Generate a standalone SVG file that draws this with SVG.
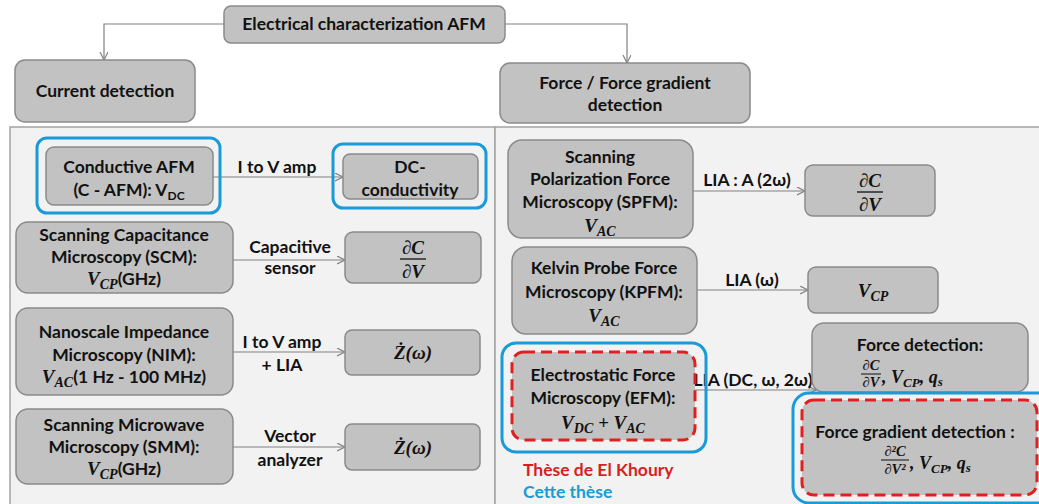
<svg xmlns="http://www.w3.org/2000/svg" width="1039" height="504" viewBox="0 0 1039 504">
<style>
.box{fill:#c2c2c2;stroke:#8a8a8a;stroke-width:1.5}
.panel{fill:#f2f2f2;stroke:#a3a3a3;stroke-width:1.5}
.blue{fill:none;stroke:#1a9ad6;stroke-width:3}
.red{stroke:#e0201f;stroke-width:3;stroke-dasharray:11 6}
.t{font-family:Lato,"Liberation Sans",sans-serif;font-weight:bold;font-size:17.5px;fill:#111;text-anchor:middle}
.l{font-family:Lato,"Liberation Sans",sans-serif;font-weight:bold;font-size:17.5px;fill:#111;text-anchor:middle}
.m{font-family:"Liberation Serif","DejaVu Serif",serif;font-style:italic;font-weight:bold;font-size:19px;fill:#111;text-anchor:middle}
.ms{font-family:"Liberation Serif","DejaVu Serif",serif;font-style:italic;font-weight:bold;font-size:14.5px;fill:#111;text-anchor:middle}
.conn path{fill:none;stroke:#808080;stroke-width:1.2}
.bar{stroke:#111;stroke-width:1.3}
</style>
<defs>
<marker id="arr" markerUnits="userSpaceOnUse" markerWidth="10" markerHeight="10" refX="8" refY="4" orient="auto">
<path d="M0,0 L8,4 L0,8" fill="none" stroke="#808080" stroke-width="1.2"/>
</marker>
</defs>

<rect class="panel" x="10" y="127" width="485" height="382"/>
<rect class="panel" x="495" y="127" width="550" height="382"/>

<g class="conn">
<path d="M224 24 H104 V60" marker-end="url(#arr)"/>
<path d="M505 24 H627 V63" marker-end="url(#arr)"/>
<path d="M213 177 H343" marker-end="url(#arr)"/>
<path d="M233 260 H345" marker-end="url(#arr)"/>
<path d="M233 352 H345" marker-end="url(#arr)"/>
<path d="M233 447 H345" marker-end="url(#arr)"/>
<path d="M693 191 H805" marker-end="url(#arr)"/>
<path d="M697 290 H808" marker-end="url(#arr)"/>
<path d="M695 390 H816" marker-end="url(#arr)"/>
</g>

<g id="labels">
<text class="l" x="277" y="173">I to V amp</text>
<text class="l" x="290" y="253">Capacitive</text>
<text class="l" x="290" y="274">sensor</text>
<text class="l" x="282" y="348">I to V amp</text>
<text class="l" x="282" y="371">+ LIA</text>
<text class="l" x="290" y="442">Vector</text>
<text class="l" x="290" y="466">analyzer</text>
<text class="l" x="747" y="186">LIA : A (2ω)</text>
<text class="l" x="752" y="286">LIA (ω)</text>
<text class="l" x="753" y="386">LIA (DC, ω, 2ω)</text>
</g>

<g id="n-top">
<rect class="box" x="224" y="6" width="281" height="37" rx="7"/>
<text class="t" x="364" y="30">Electrical characterization AFM</text>
</g>
<g id="n-current">
<rect class="box" x="15" y="60" width="180" height="62" rx="10"/>
<text class="t" x="105" y="97">Current detection</text>
</g>
<g id="n-force">
<rect class="box" x="500" y="63" width="250" height="60" rx="10"/>
<text class="t" x="625" y="89">Force / Force gradient</text>
<text class="t" x="625" y="111">detection</text>
</g>

<g id="n-cafm">
<rect class="blue" x="37" y="138" width="183" height="75" rx="10"/>
<rect class="box" x="46" y="147" width="167" height="58" rx="8"/>
<text class="t" x="129" y="173">Conductive AFM</text>
<text class="t" x="129" y="196">(C - AFM): V<tspan dy="4" style="font-size:12px">DC</tspan></text>
</g>
<g id="n-dc">
<rect class="blue" x="333" y="144" width="153" height="64" rx="10"/>
<rect class="box" x="343" y="154" width="135" height="45" rx="7"/>
<text class="t" x="410" y="173">DC-</text>
<text class="t" x="410" y="196">conductivity</text>
</g>

<g id="n-scm">
<rect class="box" x="16" y="222" width="217" height="71" rx="12"/>
<text class="t" x="124" y="241">Scanning Capacitance</text>
<text class="t" x="124" y="263">Microscopy (SCM):</text>
<text class="t" x="124" y="285"><tspan class="m">V</tspan><tspan class="m" dy="4" style="font-size:14px">CP</tspan><tspan dy="-4">(GHz)</tspan></text>
</g>
<g id="n-scm-out">
<rect class="box" x="345" y="232" width="136" height="51" rx="8"/>
<text class="m" x="413" y="254">∂C</text>
<line class="bar" x1="400" y1="259" x2="426" y2="259"/>
<text class="m" x="413" y="278">∂V</text>
</g>

<g id="n-nim">
<rect class="box" x="16" y="308" width="217" height="87" rx="12"/>
<text class="t" x="124" y="338">Nanoscale Impedance</text>
<text class="t" x="124" y="361">Microscopy (NIM):</text>
<text class="t" x="124" y="383"><tspan class="m">V</tspan><tspan class="m" dy="4" style="font-size:14px">AC</tspan><tspan dy="-4">(1 Hz - 100 MHz)</tspan></text>
</g>
<g id="n-nim-out">
<rect class="box" x="345" y="330" width="135" height="45" rx="7"/>
<text class="m" x="413" y="359">Ż(ω)</text>
</g>

<g id="n-smm">
<rect class="box" x="16" y="409" width="217" height="75" rx="12"/>
<text class="t" x="124" y="431">Scanning Microwave</text>
<text class="t" x="124" y="453">Microscopy (SMM):</text>
<text class="t" x="124" y="475"><tspan class="m">V</tspan><tspan class="m" dy="4" style="font-size:14px">CP</tspan><tspan dy="-4">(GHz)</tspan></text>
</g>
<g id="n-smm-out">
<rect class="box" x="345" y="424" width="135" height="46" rx="7"/>
<text class="m" x="413" y="454">Ż(ω)</text>
</g>

<g id="n-spfm">
<rect class="box" x="508" y="140" width="185" height="98" rx="14"/>
<text class="t" x="600" y="163">Scanning</text>
<text class="t" x="600" y="185">Polarization Force</text>
<text class="t" x="600" y="208">Microscopy (SPFM):</text>
<text class="m" x="600" y="232">V<tspan dy="4" style="font-size:14px">AC</tspan></text>
</g>
<g id="n-spfm-out">
<rect class="box" x="805" y="165" width="130" height="51" rx="8"/>
<text class="m" x="870" y="187">∂C</text>
<line class="bar" x1="857" y1="192" x2="883" y2="192"/>
<text class="m" x="870" y="211">∂V</text>
</g>

<g id="n-kpfm">
<rect class="box" x="512" y="247" width="185" height="87" rx="14"/>
<text class="t" x="604" y="274">Kelvin Probe Force</text>
<text class="t" x="604" y="298">Microscopy (KPFM):</text>
<text class="m" x="604" y="322">V<tspan dy="4" style="font-size:14px">AC</tspan></text>
</g>
<g id="n-kpfm-out">
<rect class="box" x="808" y="267" width="130" height="46" rx="8"/>
<text class="m" x="873" y="297">V<tspan dy="4" style="font-size:14px">CP</tspan></text>
</g>

<g id="n-efm">
<rect class="blue" x="502" y="343" width="204" height="109" rx="14"/>
<rect class="box red" x="512" y="352" width="183" height="88" rx="12"/>
<text class="t" x="603" y="381">Electrostatic Force</text>
<text class="t" x="603" y="404">Microscopy (EFM):</text>
<text class="m" x="603" y="429">V<tspan dy="4" style="font-size:14px">DC</tspan><tspan dy="-4"> + V</tspan><tspan dy="4" style="font-size:14px">AC</tspan></text>
</g>

<g id="n-fd">
<rect class="box" x="812" y="323" width="216" height="69" rx="12"/>
<text class="t" x="920" y="351">Force detection:</text>
<text class="ms" x="871" y="370">∂C</text>
<line class="bar" x1="861" y1="374" x2="881" y2="374" style="stroke-width:1"/>
<text class="ms" x="871" y="387">∂V</text>
<text class="m" x="882" y="383" style="text-anchor:start;font-size:18px">, V<tspan dy="4" style="font-size:13px">CP</tspan><tspan dy="-4">, q</tspan><tspan dy="3" style="font-size:13px">s</tspan></text>
</g>

<g id="n-fgd">
<rect class="blue" x="793" y="393" width="262" height="110" rx="16"/>
<rect class="box red" x="802" y="400" width="235" height="95" rx="12"/>
<text class="t" x="915" y="438">Force gradient detection :</text>
<text class="ms" x="895" y="456">∂²C</text>
<line class="bar" x1="881" y1="460" x2="909" y2="460" style="stroke-width:1"/>
<text class="ms" x="895" y="474">∂V²</text>
<text class="m" x="910" y="469" style="text-anchor:start;font-size:18px">, V<tspan dy="4" style="font-size:13px">CP</tspan><tspan dy="-4">, q</tspan><tspan dy="3" style="font-size:13px">s</tspan></text>
</g>

<g id="legend">
<text x="523" y="476" style="font-family:Lato,'Liberation Sans',sans-serif;font-weight:bold;font-size:17.5px;fill:#d71f1f">Thèse de El Khoury</text>
<text x="523" y="498" style="font-family:Lato,'Liberation Sans',sans-serif;font-weight:bold;font-size:17.5px;fill:#1a9ad6">Cette thèse</text>
</g>
</svg>
